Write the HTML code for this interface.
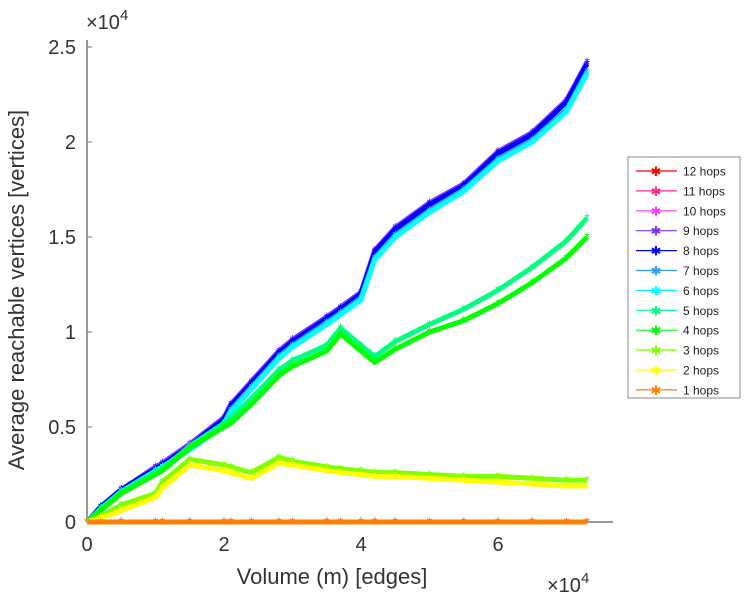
<!DOCTYPE html>
<html><head><meta charset="utf-8"><style>
body{margin:0;background:#fff;font-family:"Liberation Sans",sans-serif}
svg text{font-family:"Liberation Sans",sans-serif}
</style></head><body>
<svg id="c" width="749" height="600"></svg>
<script>
const xs=[0,0.2,0.5,1.0,1.1,1.5,2.0,2.1,2.4,2.8,3.0,3.5,3.7,4.0,4.2,4.5,5.0,5.5,6.0,6.5,7.0,7.3];
const hop9=[0,0.08,0.17,0.29,0.31,0.41,0.55,0.62,0.74,0.90,0.96,1.08,1.13,1.21,1.43,1.55,1.68,1.78,1.95,2.05,2.22,2.42];
const hop8=[0,0.08,0.17,0.28,0.30,0.40,0.54,0.61,0.73,0.89,0.95,1.07,1.12,1.20,1.42,1.54,1.67,1.77,1.94,2.04,2.21,2.41];
const hop7=[0,0.07,0.16,0.27,0.29,0.39,0.52,0.59,0.71,0.87,0.93,1.05,1.10,1.18,1.39,1.51,1.64,1.75,1.91,2.01,2.17,2.37];
const hop6=[0,0.07,0.16,0.27,0.29,0.38,0.51,0.58,0.70,0.86,0.92,1.04,1.09,1.17,1.38,1.50,1.63,1.74,1.90,2.00,2.16,2.36];
const hop5=[0,0.07,0.16,0.26,0.28,0.40,0.52,0.55,0.65,0.80,0.85,0.93,1.02,0.93,0.87,0.95,1.04,1.12,1.22,1.34,1.48,1.60];
const hop4=[0,0.06,0.15,0.25,0.27,0.39,0.50,0.52,0.62,0.77,0.82,0.90,0.99,0.90,0.84,0.91,1.0,1.06,1.15,1.26,1.39,1.50];
const hop3=[0,0.03,0.09,0.15,0.21,0.33,0.30,0.29,0.26,0.34,0.32,0.29,0.28,0.27,0.26,0.26,0.25,0.24,0.24,0.23,0.22,0.22];
const hop2=[0,0.02,0.06,0.13,0.18,0.30,0.27,0.26,0.23,0.31,0.30,0.27,0.26,0.25,0.24,0.24,0.23,0.22,0.21,0.2,0.19,0.19];
const zero=[0,0,0,0,0,0,0,0,0,0,0,0,0,0,0,0,0,0,0,0,0,0];
const labels=["12 hops","11 hops","10 hops","9 hops","8 hops","7 hops","6 hops","5 hops","4 hops","3 hops","2 hops","1 hops"];
const colors=["#ff0000","#ff2a8c","#ff40ff","#8033ff","#0000ff","#3399ff","#00ffff","#00ff80","#00ff00","#80ff00","#ffff00","#ff8000"];
const series=[zero,zero,zero,hop9,hop8,hop7,hop6,hop5,hop4,hop3,hop2,zero];
const xTicks=[0,2,4,6], yTicks=[0,0.5,1,1.5,2,2.5];
const X=v=>87+v*68.5, Y=v=>522-v*190;
const NS="http://www.w3.org/2000/svg", svg=document.getElementById('c');
function mk(t,a,p){const e=document.createElementNS(NS,t);for(const k in a)e.setAttribute(k,a[k]);(p||svg).appendChild(e);return e;}
let ax=mk('line',{x1:87,y1:522,x2:613,y2:522,stroke:'#777','stroke-width':1.5});

let ay=mk('line',{x1:87,y1:40,x2:87,y2:522,stroke:'#777','stroke-width':1.5});

xTicks.forEach(t=>{mk('line',{x1:X(t),y1:522,x2:X(t),y2:517,stroke:'#777'});
 const tx=mk('text',{x:X(t),y:551,'font-size':20,'text-anchor':'middle',fill:'#333'});tx.textContent=t;
 });
yTicks.forEach(t=>{mk('line',{x1:87,y1:Y(t),x2:92,y2:Y(t),stroke:'#777'});
 const tx=mk('text',{x:76,y:Y(t)+7,'font-size':20,'text-anchor':'end',fill:'#333'});tx.textContent=t;
 });
let t1=mk('text',{x:86,y:29,'font-size':20,fill:'#333'});t1.innerHTML='×10<tspan dy="-9" font-size="15">4</tspan>';

let t2=mk('text',{x:547,y:592,'font-size':20,fill:'#333'});t2.innerHTML='×10<tspan dy="-9" font-size="15">4</tspan>';

let xt=mk('text',{x:332,y:584,'font-size':22,'text-anchor':'middle',fill:'#333'});xt.textContent='Volume (m) [edges]';

let yt=mk('text',{x:0,y:0,'font-size':22,'text-anchor':'middle',fill:'#333',transform:'translate(24,290) rotate(-90)'});yt.textContent='Average reachable vertices [vertices]';

for(let i=0;i<series.length;i++){
 const d=series[i], g=mk('g',{});
 
 
 mk('polyline',{points:xs.map((x,j)=>X(x)+','+Y(d[j])).join(' '),fill:'none',stroke:colors[i],'stroke-width':5,'stroke-linejoin':'round'},g);
 xs.forEach((x,j)=>{const m=mk('text',{x:X(x),y:Y(d[j])+5,'font-size':14,'text-anchor':'middle',fill:colors[i]},g);m.textContent='*';});
}
const lg=mk('g',{});
mk('rect',{x:628,y:157,width:112,height:241,fill:'#fff',stroke:'#888'},lg);
labels.forEach((l,i)=>{const y=171+i*19.9;const e=mk('g',{},lg);
 
 mk('line',{x1:636,y1:y,x2:677,y2:y,stroke:colors[i],'stroke-width':1.2},e);
 const s=mk('text',{x:656,y:y+5,'font-size':13,'text-anchor':'middle',fill:colors[i]},e);s.textContent='✱';
 const t=mk('text',{x:683,y:y+4.5,'font-size':12,fill:'#222'},e);t.textContent=l;});
</script>
</body></html>
